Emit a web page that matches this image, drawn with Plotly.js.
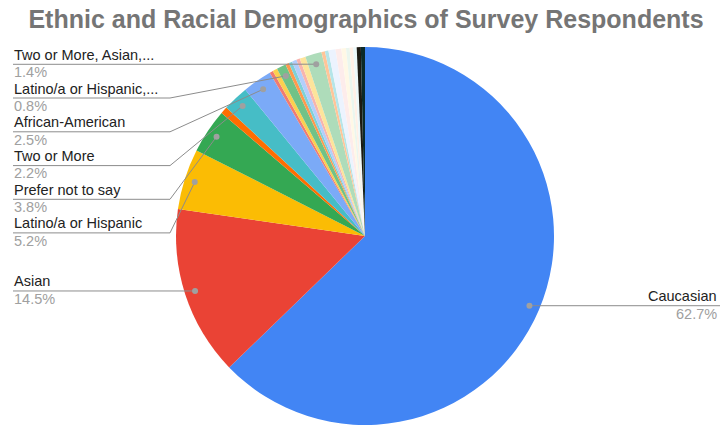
<!DOCTYPE html>
<html>
<head>
<meta charset="utf-8">
<script src="https://cdn.plot.ly/plotly-3.0.1.min.js"></script>
<style>html,body{margin:0;padding:0;background:#fff;}#chart{width:720px;height:425px;}</style>
</head>
<body>
<div id="chart"></div>
<script>
// ---- data ----
const labels = [
  "Caucasian", "Asian", "Latino/a or Hispanic", "Prefer not to say", "Other 1",
  "Two or More", "African-American", "Other 2", "Other 3", "Latino/a or Hispanic,...",
  "Other 4", "Other 5", "Other 6", "Other 7", "Other 8",
  "Two or More, Asian,...", "Other 9", "Other 10", "Other 11", "Other 12",
  "Other 13", "Other 14", "Other 15", "Other 16", "Other 17", "Other 18"
];
const values = [
  62.7, 14.5, 5.2, 3.8, 0.6,
  2.2, 2.5, 0.3, 0.4, 0.8,
  0.3, 0.3, 0.4, 0.3, 0.5,
  1.4, 0.3, 0.3, 0.6, 0.5,
  0.4, 0.3, 0.3, 0.3, 0.35, 0.35
];
const colors = [
  "#4285f4", "#ea4335", "#fbbc04", "#34a853", "#ff6d01",
  "#46bdc6", "#7baaf7", "#f07b72", "#fcd04f", "#71c287",
  "#ff994d", "#7ed1d7", "#b3cefb", "#f7b4ae", "#fde49b",
  "#aedcba", "#ffc599", "#b5e5e8", "#ecf3fe", "#fdeceb",
  "#fff8e6", "#ebf6ee", "#fff0e6", "#ecf8f9", "#1d1a12", "#0b2a2a"
];
// slices with callouts on the left (top to bottom) and on the right
const leftCallouts = [15, 9, 6, 5, 3, 2, 1];
const rightCallouts = [0];
const titleText = "Ethnic and Racial Demographics of Survey Respondents";

// ---- layout geometry ----
const W = 720, H = 425;
const dom = {x: [176 / W, 554 / W], y: [0, 1 - 47 / H]};
const cx = (dom.x[0] + dom.x[1]) / 2 * W;
const cy = (1 - (dom.y[0] + dom.y[1]) / 2) * H;
const R = Math.min((dom.x[1] - dom.x[0]) * W, (dom.y[1] - dom.y[0]) * H) / 2;
const rDot = R * 0.945;

const total = values.reduce((a, b) => a + b, 0);
const mids = [];
let cum = 0;
values.forEach(v => { mids.push((cum + v / 2) / total * 2 * Math.PI); cum += v; });
function dotPos(i) {
  return [cx + rDot * Math.sin(mids[i]), cy - rDot * Math.cos(mids[i])];
}
const px = x => x / W, py = y => 1 - y / H;

const shapes = [], annotations = [];
const lineColor = "#8c8c8c", dotColor = "#a0a0a0";
const leftX = 13, bendX = 170;
const rowY = [64.3, 98, 131.8, 165.6, 199.3, 232.9];
const FONT = "Liberation Sans, Arial, sans-serif";
const FS = 14.5;

function addDot(x, y) {
  shapes.push({type: "circle", xref: "paper", yref: "paper", xsizemode: "pixel", ysizemode: "pixel",
    xanchor: px(x), yanchor: py(y), x0: -3, x1: 3, y0: -3, y1: 3,
    fillcolor: dotColor, line: {width: 0}, layer: "above"});
}
function addLabel(i, x, lineY, anchor) {
  annotations.push({xref: "paper", yref: "paper", x: px(x), y: py(lineY - 9.5), xanchor: anchor, yanchor: "middle",
    showarrow: false, align: anchor, borderpad: 0, text: labels[i],
    font: {family: FONT, size: FS, color: "#222222"}});
  annotations.push({xref: "paper", yref: "paper", x: px(x), y: py(lineY + 7.8), xanchor: anchor, yanchor: "middle",
    showarrow: false, align: anchor, borderpad: 0, text: values[i].toFixed(1) + "%",
    font: {family: FONT, size: FS, color: "#a0a0a0"}});
}

leftCallouts.forEach((i, k) => {
  const [dx, dy] = dotPos(i);
  let ly;
  if (k < rowY.length) {
    ly = rowY[k];
    const path = "M" + px(leftX) + "," + py(ly) + " L" + px(bendX) + "," + py(ly) + " L" + px(dx) + "," + py(dy);
    shapes.push({type: "path", xref: "paper", yref: "paper", path: path, line: {color: lineColor, width: 1}, layer: "above"});
  } else {
    ly = dy;
    shapes.push({type: "line", xref: "paper", yref: "paper", x0: px(leftX), y0: py(ly), x1: px(dx), y1: py(dy),
      line: {color: lineColor, width: 1}, layer: "above"});
  }
  addDot(dx, dy);
  addLabel(i, leftX, ly, "left");
});
rightCallouts.forEach(i => {
  const [dx, dy] = dotPos(i);
  shapes.push({type: "line", xref: "paper", yref: "paper", x0: px(dx), y0: py(dy), x1: 1, y1: py(dy),
    line: {color: lineColor, width: 1}, layer: "above"});
  addDot(dx, dy);
  addLabel(i, 718, dy, "right");
});

const trace = {
  type: "pie", labels: labels, values: values, sort: false, direction: "clockwise", rotation: 0,
  marker: {colors: colors, line: {width: 0}}, textinfo: "none", hoverinfo: "label+percent",
  domain: dom, showlegend: false
};
const layout = {
  width: W, height: H, margin: {l: 0, r: 0, t: 0, b: 0}, paper_bgcolor: "#ffffff",
  title: {text: "<b>" + titleText + "</b>", x: 366 / W, xanchor: "center", xref: "paper", y: 1 - 19 / H, yref: "container", yanchor: "middle",
    font: {family: FONT, size: 25, color: "#757575"}},
  shapes: shapes, annotations: annotations, showlegend: false
};
Plotly.newPlot("chart", [trace], layout, {displayModeBar: false, staticPlot: true});
</script>
</body>
</html>
